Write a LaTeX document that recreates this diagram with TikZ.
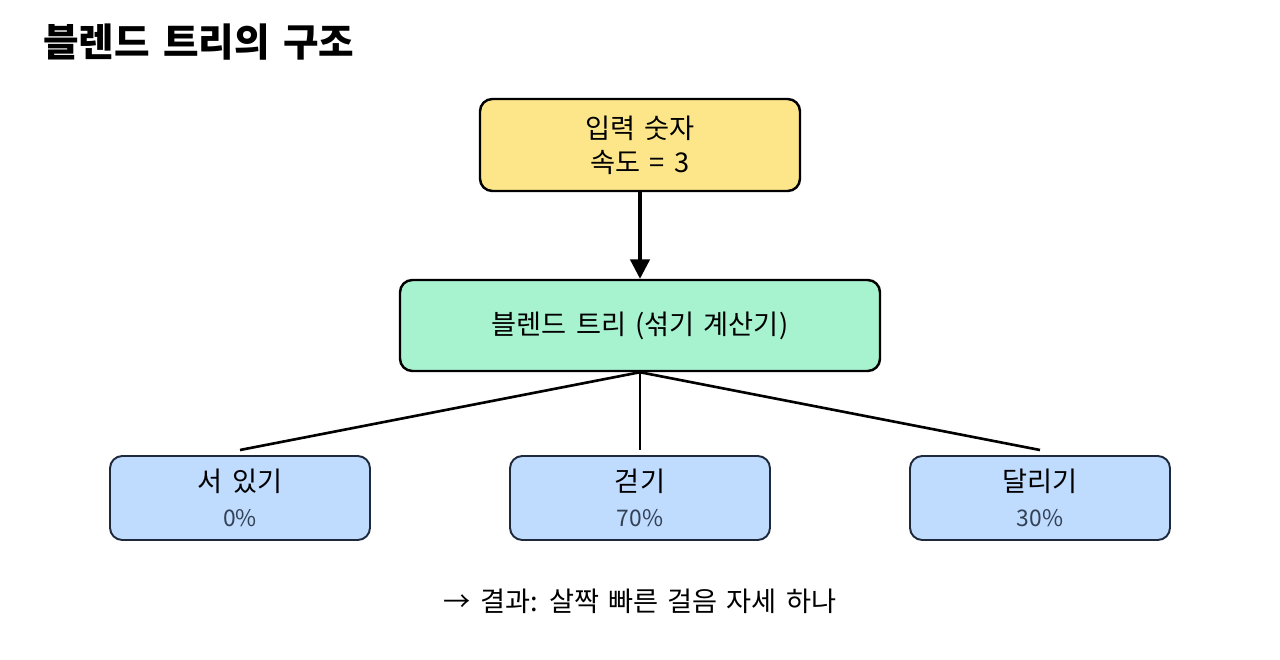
\documentclass[tikz,border=0pt]{standalone}
\usepackage{fontspec}
\setmainfont[WordSpace=1.5]{Noto Sans CJK KR}
\usetikzlibrary{arrows.meta}
\definecolor{inputfill}{HTML}{FDE68A}
\definecolor{blendfill}{HTML}{A7F3D0}
\definecolor{clipfill}{HTML}{BFDBFE}
\definecolor{clipline}{HTML}{1E293B}
\definecolor{pctgray}{HTML}{334155}
\begin{document}
\begin{tikzpicture}[
    every node/.style={font=\fontsize{15.5}{19.5}\selectfont},
    input/.style={draw, line width=1.4pt, rounded corners=7pt, minimum width=6.4cm, minimum height=1.84cm, align=center, fill=inputfill},
    blend/.style={draw, line width=1.4pt, rounded corners=7pt, minimum width=9.6cm, minimum height=1.82cm, align=center, fill=blendfill},
    clip/.style={draw=clipline, line width=1.1pt, rounded corners=7pt, minimum width=5.2cm, minimum height=1.68cm, align=center, fill=clipfill},
    flow/.style={-{Triangle[length=11pt, width=11pt]}, line width=1.8pt},
    branch/.style={line width=1.5pt},
]
\useasboundingbox (0,0) rectangle (25.6,-13.2);
\node[anchor=west, font=\fontsize{22}{26}\selectfont\bfseries] (title) at (0.74,-0.84) {블렌드 트리의 구조};
\node[input] (speed) at (12.8,-2.9) {입력 숫자\\속도 = 3};
\node[blend] (tree) at (12.8,-6.51) {블렌드 트리 (섞기 계산기)};
\draw[flow] (speed) -- (tree);
\node[clip] (idle) at (4.8,-9.96) {서 있기\\{\fontsize{13}{16}\selectfont\color{pctgray}0\%}};
\node[clip] (walk) at (12.8,-9.96) {걷기\\{\fontsize{13}{16}\selectfont\color{pctgray}70\%}};
\node[clip] (run) at (20.8,-9.96) {달리기\\{\fontsize{13}{16}\selectfont\color{pctgray}30\%}};
\coordinate (idletop) at (4.8,-9.0);
\coordinate (walktop) at (12.8,-9.0);
\coordinate (runtop) at (20.8,-9.0);
\draw[branch] (tree.south) -- (idletop);
\draw[branch] (tree.south) -- (walktop);
\draw[branch] (tree.south) -- (runtop);
\node (result) at (12.8,-12.02) {→ 결과: 살짝 빠른 걸음 자세 하나};
\end{tikzpicture}
\end{document}
